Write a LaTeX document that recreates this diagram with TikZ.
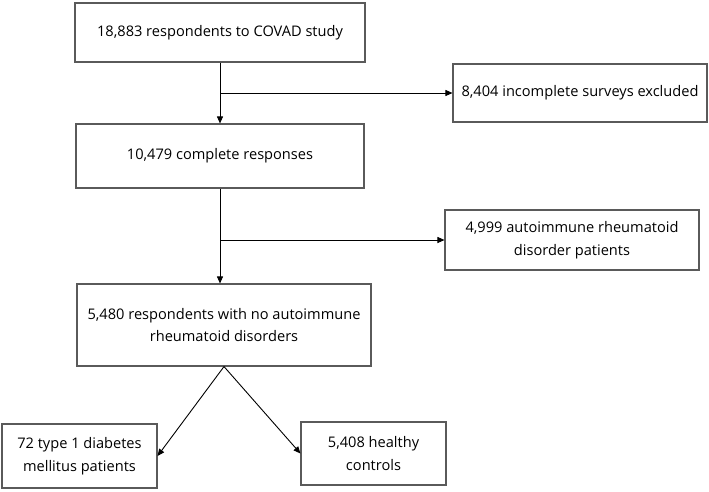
\documentclass[tikz,border=0pt]{standalone}
\usepackage{fontspec}
\setmainfont{Open Sans}
\usetikzlibrary{arrows.meta}

\tikzset{every picture/.style={line width=0.9pt}}
\tikzset{
  flowbox/.style={draw={rgb,255:red,90;green,90;blue,90}, line width=1.1pt, align=center, inner sep=2pt, font=\fontsize{14.6}{22.5}\selectfont},
  flowarrow/.style={draw=black, -{Triangle[length=7pt,width=6pt]}}
}

\begin{document}
\begin{tikzpicture}[x=1pt,y=1pt,yscale=-1,xscale=1]
            \useasboundingbox (0,0) rectangle (709,491);

            %Boxes
            \node [flowbox, minimum width=290, minimum height=59] (respondents) at (220,32.5) {18,883 respondents to COVAD study};
            \node [flowbox, minimum width=254, minimum height=58] (incomplete) at (580,93) {8,404 incomplete surveys excluded};
            \node [flowbox, minimum width=288, minimum height=64] (complete) at (220,156) {10,479 complete responses};
            \node [flowbox, minimum width=254, minimum height=60] (autoimmune) at (572,240) {4,999 autoimmune rheumatoid\\disorder patients};
            \node [flowbox, minimum width=294, minimum height=82] (noarm) at (224,325) {5,480 respondents with no autoimmune\\rheumatoid disorders};
            \node [flowbox, minimum width=155, minimum height=64] (diabetes) at (79.5,456) {72 type 1 diabetes\\mellitus patients};
            \node [flowbox, minimum width=145, minimum height=63] (healthy) at (373.5,453.5) {5,408 healthy\\controls};

            %Branch points
            \coordinate (branchA) at (respondents.south |- incomplete.west);
            \coordinate (branchB) at (complete.south |- autoimmune.west);

            %Straight Lines
            \draw [flowarrow] (respondents.south) -- (complete.north);
            \draw [flowarrow] (branchA) -- (incomplete.west);
            \draw [flowarrow] (complete.south) -- (complete.south |- noarm.north);
            \draw [flowarrow] (branchB) -- (autoimmune.west);
            \draw [flowarrow] (noarm.south) -- (diabetes.east);
            \draw [flowarrow] (noarm.south) -- (healthy.west);

\end{tikzpicture}
\end{document}
